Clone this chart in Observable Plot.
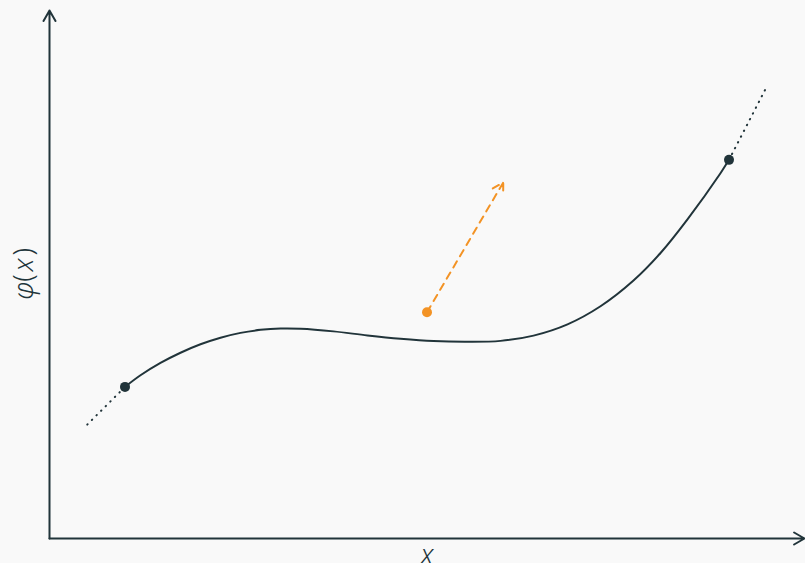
<!DOCTYPE html>
<html>
<head>
<meta charset="utf-8">
<script src="https://cdn.jsdelivr.net/npm/d3@7"></script>
<script src="https://cdn.jsdelivr.net/npm/@observablehq/plot@0.6"></script>
<style>
  html, body { margin: 0; padding: 0; background: #f9f9f9; }
  #chart svg { display: block; }
</style>
</head>
<body>
<div id="chart"></div>
<script>
// Sampled values of φ(x) between the two marked end points
const curveX = [1.0, 1.205, 1.47, 1.735, 2.0, 2.265, 2.53, 2.795, 3.06, 3.325, 3.762, 4.212, 4.649, 5.086, 5.536, 5.974, 6.411, 6.861, 7.298, 7.735, 8.093, 8.45, 8.887, 9.0];
const curveY = [2.01, 2.164, 2.328, 2.463, 2.575, 2.662, 2.726, 2.766, 2.784, 2.781, 2.746, 2.692, 2.648, 2.617, 2.608, 2.62, 2.69, 2.839, 3.079, 3.42, 3.785, 4.231, 4.843, 5.02];

// Dotted continuations beyond the end points
const tailLowX = [0.5, 1];
const tailLowY = [1.51, 2.01];
const tailHighX = [9, 9.5];
const tailHighY = [5.02, 5.99];

// Marked end points
const endX = [1, 9];
const endY = [2.01, 5.02];

// Highlighted point and its direction
const pointX = [5];
const pointY = [3.0];
const arrowTipX = [6.01];
const arrowTipY = [4.72];

const xLabel = "x";
const yLabel = "φ(x)";

const dark = "#21343a";
const orange = "#f39325";
const labelFont = "'Noto Sans', Lato, sans-serif";

const curve = curveX.map((x, i) => ({x, y: curveY[i]}));
const tailLow = tailLowX.map((x, i) => ({x, y: tailLowY[i]}));
const tailHigh = tailHighX.map((x, i) => ({x, y: tailHighY[i]}));
const ends = endX.map((x, i) => ({x, y: endY[i]}));
const pts = pointX.map((x, i) => ({x, y: pointY[i], x2: arrowTipX[i], y2: arrowTipY[i]}));

const chart = Plot.plot({
  width: 805,
  height: 563,
  marginLeft: 49,
  marginRight: 1,
  marginTop: 10,
  marginBottom: 25,
  x: {domain: [0, 10], axis: null},
  y: {domain: [0, 7], axis: null},
  style: {background: "#f9f9f9", fontFamily: labelFont},
  marks: [
    // axes with arrow heads
    Plot.arrow([{x1: 0, y1: 0, x2: 10, y2: 0}], {x1: "x1", y1: "y1", x2: "x2", y2: "y2", stroke: dark, strokeWidth: 2, headLength: 9}),
    Plot.arrow([{x1: 0, y1: 0, x2: 0, y2: 7}], {x1: "x1", y1: "y1", x2: "x2", y2: "y2", stroke: dark, strokeWidth: 2, headLength: 9}),
    // dotted continuations
    Plot.line(tailLow, {x: "x", y: "y", stroke: dark, strokeWidth: 2, strokeDasharray: "0.5,6", strokeLinecap: "round"}),
    Plot.line(tailHigh, {x: "x", y: "y", stroke: dark, strokeWidth: 2, strokeDasharray: "0.5,6", strokeLinecap: "round"}),
    // the function
    Plot.line(curve, {x: "x", y: "y", curve: "catmull-rom", stroke: dark, strokeWidth: 2}),
    Plot.dot(ends, {x: "x", y: "y", r: 5, fill: dark}),
    // highlighted point with dashed direction arrow
    Plot.arrow(pts, {x1: "x", y1: "y", x2: "x2", y2: "y2", stroke: orange, strokeWidth: 2, strokeDasharray: "7,6", headLength: 9}),
    Plot.dot(pts, {x: "x", y: "y", r: 5, fill: orange}),
    // axis labels
    Plot.text([xLabel], {frameAnchor: "bottom", dy: 25, fontSize: 27, fontStyle: "italic", fontWeight: 300, fill: dark, lineAnchor: "bottom", className: "xlabel"}),
    Plot.text([yLabel], {x: () => -0.225, y: () => 3.507, rotate: -90, fontSize: 27, fontWeight: 300, fill: dark, lineAnchor: "bottom", className: "ylabel"})
  ]
});

// math-style label: italic variables, upright parentheses
d3.select(chart).selectAll(".ylabel text").each(function () {
  const t = d3.select(this);
  const s = t.text();
  t.text(null);
  for (const ch of s) {
    const span = t.append("tspan").text(ch);
    if (ch !== "(" && ch !== ")") span.attr("font-style", "italic");
    if (ch === "x") span.attr("dx", 3);
    if (ch === ")") span.attr("dx", 3);
  }
});

document.getElementById("chart").appendChild(chart);
</script>
</body>
</html>
